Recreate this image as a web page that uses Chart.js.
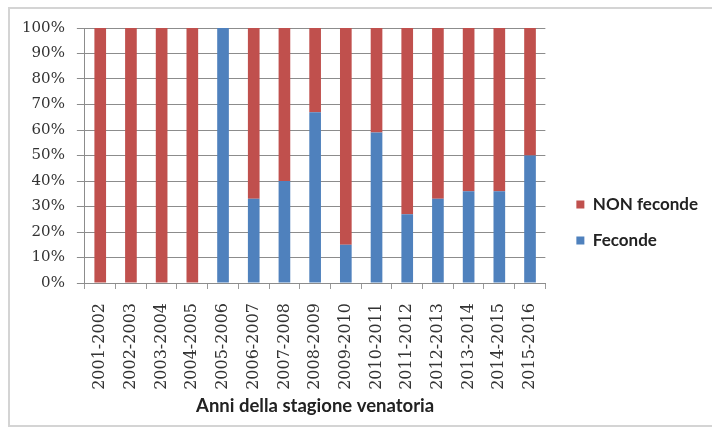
<!DOCTYPE html>
<html>
<head>
<meta charset="utf-8">
<script src="https://cdn.jsdelivr.net/npm/chart.js@4"></script>
<style>
  body { margin: 0; background: #fff; }
</style>
</head>
<body>
<canvas id="myChart" width="712" height="434"></canvas>
<script>
const seasons = ['2001-2002', '2002-2003', '2003-2004', '2004-2005', '2005-2006', '2006-2007', '2007-2008',
  '2008-2009', '2009-2010', '2010-2011', '2011-2012', '2012-2013', '2013-2014', '2014-2015', '2015-2016'];
const feconde = [0, 0, 0, 0, 100, 33, 40, 67, 15, 59, 27, 33, 36, 36, 50];
const nonFeconde = [100, 100, 100, 100, 0, 67, 60, 33, 85, 41, 73, 67, 64, 64, 50];
const yTicks = [0, 10, 20, 30, 40, 50, 60, 70, 80, 90, 100];

// grey frame round the whole chart, like the excel chart border
const frame = {
  id: 'frame',
  beforeDraw(chart) {
    const c = chart.ctx;
    c.save();
    c.fillStyle = '#fff';
    c.fillRect(0, 0, chart.width, chart.height);
    c.strokeStyle = '#d4d4d4';
    c.lineWidth = 2;
    c.strokeRect(9, 8, 712, 418);
    c.restore();
  }
};

const txt = '#333';

function draw() {
  new Chart(document.getElementById('myChart'), {
    type: 'bar',
    data: {
      labels: seasons,
      datasets: [
        { label: 'Feconde', data: feconde, backgroundColor: '#4F81BD' },
        { label: 'NON feconde', data: nonFeconde, backgroundColor: '#C0504D' },
      ]
    },
    options: {
      responsive: false,
      animation: false,
      categoryPercentage: 1,
      barPercentage: 0.38,
      layout: { padding: { left: 10, top: 28, right: 4, bottom: 17 } },
      scales: {
        x: {
          stacked: true,
          grid: { drawOnChartArea: false, offset: true, tickLength: 6, color: '#9a9a9a' },
          border: { color: '#8c8c8c' },
          ticks: {
            autoSkip: false, minRotation: 90, maxRotation: 90, padding: 14,
            color: txt, font: { family: 'DejaVu Serif', size: 16 }
          },
          title: {
            display: true, text: 'Anni della stagione venatoria', color: '#222',
            font: { family: 'Lato', weight: 'bold', size: 18.5 }, padding: { top: 8, bottom: 0 }
          },
          afterFit: (s) => { s.height = 134; }
        },
        y: {
          stacked: true,
          min: 0, max: 100,
          afterBuildTicks: (s) => { s.ticks = yTicks.map(v => ({ value: v })); },
          grid: { color: '#8c8c8c', tickLength: 8 },
          border: { color: '#8c8c8c' },
          ticks: {
            padding: 12, color: txt, font: { family: 'DejaVu Serif', size: 15 },
            callback: (v) => v + '%'
          }
        },
        y2: {
          position: 'right',
          display: true,
          grid: { display: false },
          border: { display: false },
          ticks: { display: false },
          afterFit: (s) => { s.width = 12; }
        }
      },
      plugins: {
        legend: {
          position: 'right',
          reverse: true,
          maxWidth: 180,
          labels: {
            boxWidth: 8, boxHeight: 8, padding: 19, color: '#222',
            font: { family: 'Lato', weight: 'bold', size: 17 }
          }
        },
        tooltip: { enabled: false }
      }
    },
    plugins: [frame]
  });
}

// make sure the local fonts are ready before chart.js measures text
Promise.all([
  document.fonts.load('bold 17px Lato'),
  document.fonts.load('15px "DejaVu Serif"')
]).then(draw, draw);
</script>
</body>
</html>
